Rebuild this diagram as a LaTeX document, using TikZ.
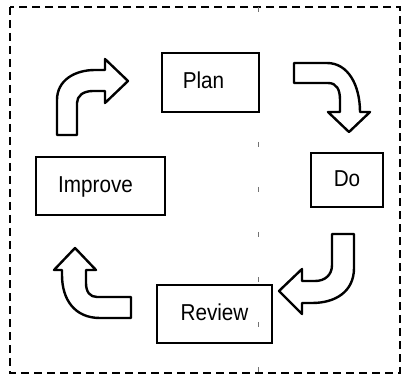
\documentclass[tikz,border=0pt]{standalone}
\usepackage{fontspec}
\setmainfont{Liberation Sans}[FakeStretch=0.9]
\begin{document}
\begin{tikzpicture}[x=1pt,y=-1pt,
  box/.style={draw, line width=2.4pt, inner sep=0pt,
    font=\fontsize{23}{27}\selectfont, text height=16.5pt, text depth=4pt},
  blockarrow/.style={draw, line width=2.4pt, line join=round, fill=white},
  border/.style={line width=1.7pt, dash pattern=on 8pt off 5pt},
  foldline/.style={line width=0.8pt, black!55, dash pattern=on 5pt off 40pt}]
\useasboundingbox (0,0) rectangle (402,377);
% outer frame and fold line
\draw[border] (10,7) rectangle (400,373);
\draw[foldline] (258,7) -- (258,373);
% boxes
\node[box, minimum width=97pt, minimum height=59pt] (plan) at (210.5,82.5) {\hspace*{-14pt}Plan};
\node[box, minimum width=72pt, minimum height=54pt] (do) at (347,180) {Do};
\node[box, minimum width=115pt, minimum height=58pt] (review) at (214.5,314) {Review};
\node[box, minimum width=129pt, minimum height=58pt] (improve) at (100.5,186) {\hspace*{-10pt}Improve};
% block arrows
\draw[blockarrow] (57,135) -- (57,100) .. controls (57,80) and (75,70) .. (95,70)
  -- (105,70) -- (105,59) -- (128,81) -- (105,103) -- (105,91) -- (93,91)
  .. controls (83,91) and (77,96) .. (77,103) -- (77,135) -- cycle;
\draw[blockarrow] (294,63) -- (327,63) .. controls (348,63) and (360,85) .. (360,112)
  -- (370,112) -- (349,132) -- (328,112) -- (340,112) -- (340,100)
  .. controls (340,90) and (337,83) .. (328,83) -- (294,83) -- cycle;
\draw[blockarrow] (332,234) -- (354,234) -- (354,268) .. controls (354,292) and (335,303) .. (312,303)
  -- (302,303) -- (302,314) -- (279,291) -- (302,269) -- (302,281) -- (315,281)
  .. controls (325,281) and (332,275) .. (332,265) -- cycle;
\draw[blockarrow] (131,318) -- (100,318) .. controls (75,318) and (62,300) .. (62,275)
  -- (62,270) -- (54,270) -- (75,248) -- (96,270) -- (86,270) -- (86,283)
  .. controls (86,292) and (90,297) .. (97,297) -- (131,297) -- cycle;
\end{tikzpicture}
\end{document}
